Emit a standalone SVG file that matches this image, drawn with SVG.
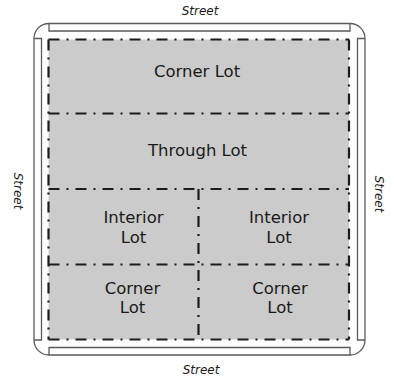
<svg xmlns="http://www.w3.org/2000/svg" width="394" height="377" viewBox="0 0 394 377">
  <style>
    .road { fill: none; stroke: #5a5a5a; stroke-width: 1.3; }
    .lot-area { fill: #cbcbcb; }
    .lotline { fill: none; stroke: #1c1c1c; stroke-width: 2.2; stroke-dasharray: 11 7 2 7; }
    .lbl { font-family: "DejaVu Sans", Verdana, sans-serif; font-size: 16.5px; fill: #1a1a1a; text-anchor: middle; }
    .street { font-family: "DejaVu Sans", Verdana, sans-serif; font-size: 12px; font-style: italic; fill: #1a1a1a; text-anchor: middle; }
  </style>

  <!-- surrounding streets with rounded corners and sidewalk strips -->
  <g id="streets">
    <path class="road" d="M49,23.5 H350 A15,15 0 0 1 365,38.5 V340 A15,15 0 0 1 350,355 H49 A15,15 0 0 1 34,340 V38.5 A15,15 0 0 1 49,23.5 Z"/>
    <path class="road" d="M49,23.5 V31 H350 V23.5"/>
    <path class="road" d="M34,38.5 H41.5 V340 H34"/>
    <path class="road" d="M365,38.5 H357.5 V340 H365"/>
    <path class="road" d="M49,355 V347.5 H350 V355"/>
  </g>

  <!-- block shading -->
  <rect class="lot-area" x="48.5" y="39.5" width="300.5" height="300"/>

  <!-- lot boundaries -->
  <g id="connectors">
    <line class="lotline" x1="48.5" y1="39.5" x2="349" y2="39.5"/>
    <line class="lotline" x1="48.5" y1="339.5" x2="349" y2="339.5"/>
    <line class="lotline" x1="48.5" y1="39.5" x2="48.5" y2="339.5"/>
    <line class="lotline" x1="349" y1="39.5" x2="349" y2="339.5"/>
    <line class="lotline" x1="48.5" y1="113.5" x2="349" y2="113.5"/>
    <line class="lotline" x1="48.5" y1="189" x2="349" y2="189"/>
    <line class="lotline" x1="48.5" y1="264.5" x2="349" y2="264.5"/>
    <line class="lotline" x1="198.5" y1="189" x2="198.5" y2="339.5"/>
  </g>

  <g id="corner-lot-top"><text class="lbl" x="197" y="77">Corner Lot</text></g>
  <g id="through-lot"><text class="lbl" x="197.5" y="156">Through Lot</text></g>
  <g id="interior-lot-left"><text class="lbl" x="133.5" y="223">Interior</text><text class="lbl" x="133.5" y="243">Lot</text></g>
  <g id="interior-lot-right"><text class="lbl" x="279" y="223">Interior</text><text class="lbl" x="279" y="243">Lot</text></g>
  <g id="corner-lot-left"><text class="lbl" x="132.5" y="294">Corner</text><text class="lbl" x="132.5" y="313">Lot</text></g>
  <g id="corner-lot-right"><text class="lbl" x="280" y="294">Corner</text><text class="lbl" x="280" y="313">Lot</text></g>

  <g id="street-labels">
    <text class="street" x="200" y="15">Street</text>
    <text class="street" x="201" y="374">Street</text>
    <text class="street" transform="translate(14,191) rotate(90)">Street</text>
    <text class="street" transform="translate(375,194) rotate(90)">Street</text>
  </g>
</svg>
